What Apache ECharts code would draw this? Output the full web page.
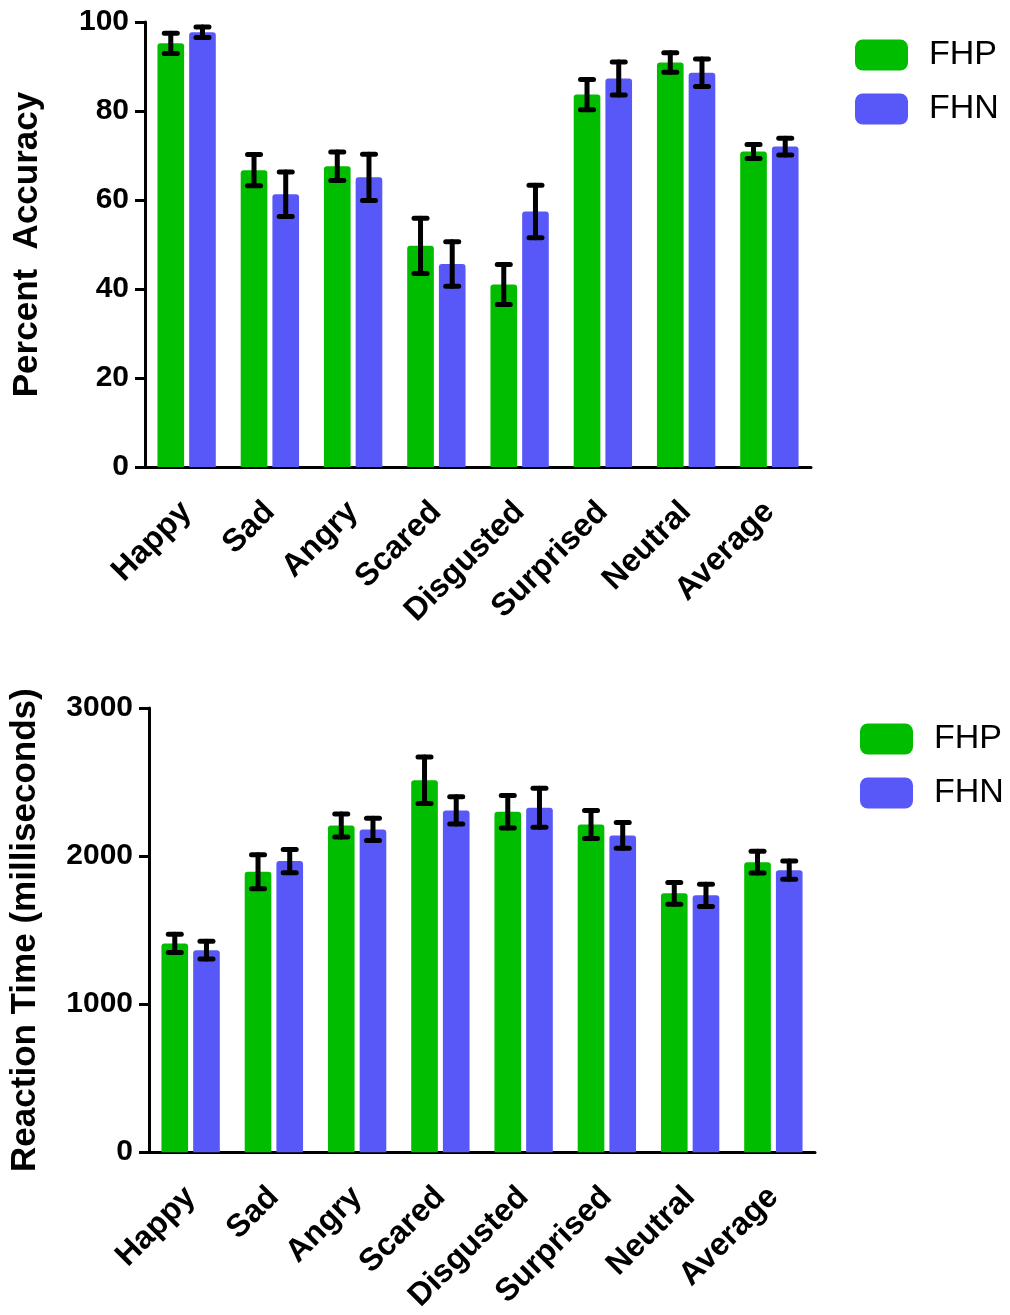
<!DOCTYPE html>
<html>
<head>
<meta charset="utf-8">
<script src="https://cdn.jsdelivr.net/npm/echarts@6/dist/echarts.min.js"></script>
<style>
html,body{margin:0;padding:0;background:#fff;}
#chart{width:1010px;height:1315px;}
</style>
</head>
<body>
<div id="chart"></div>
<script>
var categories = ['Happy','Sad','Angry','Scared','Disgusted','Surprised','Neutral','Average'];
var seriesNames = ['FHP','FHN'];
var accTicks = [0,20,40,60,80,100];
var rtTicks = [0,1000,2000,3000];

// Percent accuracy (top chart)
var accFHP    = [95.2, 66.7, 67.6, 49.7, 41.0, 83.7, 90.9, 70.9];
var accFHPErr = [2.3, 3.5, 3.2, 6.2, 4.5, 3.4, 2.2, 1.6];
var accFHN    = [97.7, 61.3, 65.1, 45.6, 57.4, 87.3, 88.6, 72.0];
var accFHNErr = [1.2, 5.0, 5.2, 5.0, 5.9, 3.7, 3.1, 1.9];

// Reaction time (bottom chart)
var rtFHP    = [1410, 1894, 2206, 2512, 2299, 2213, 1748, 1959];
var rtFHPErr = [62, 115, 78, 157, 110, 95, 73, 73];
var rtFHN    = [1364, 1966, 2180, 2308, 2326, 2139, 1735, 1905];
var rtFHNErr = [60, 78, 75, 92, 132, 87, 75, 62];

var GREEN = '#00bd00';
var BLUE = '#5858f8';
var FONT = '"Liberation Sans", Arial, sans-serif';
var BAR_W = 0.32, BAR_GAP = 0.19;

function errData(vals, errs){
  return vals.map(function(v,i){ return [i, v, errs[i]]; });
}
function errRender(sign){
  return function(params, api){
    var ci = api.value(0), v = api.value(1), e = api.value(2);
    var band = api.size([1,0])[0];
    var bw = band * BAR_W;
    var off = sign * (bw + bw * BAR_GAP) / 2;
    var top = api.coord([ci, v + e]);
    var bot = api.coord([ci, v - e]);
    var x = top[0] + off;
    var hw = 6.5;
    var st = {stroke:'#000', lineWidth:5, lineCap:'round'};
    return {type:'group', children:[
      {type:'line', shape:{x1:x, y1:top[1], x2:x, y2:bot[1]}, style:st},
      {type:'line', shape:{x1:x-hw, y1:top[1], x2:x+hw, y2:top[1]}, style:st},
      {type:'line', shape:{x1:x-hw, y1:bot[1], x2:x+hw, y2:bot[1]}, style:st}
    ]};
  };
}

function xAxisDef(gi){
  return {
    type:'category', gridIndex:gi, data:categories,
    axisLine:{lineStyle:{color:'#000', width:3}},
    axisTick:{alignWithLabel:true, length:11, lineStyle:{color:'#000', width:3}},
    axisLabel:{rotate:45, margin:40, color:'#000', fontSize:32, fontWeight:'bold', fontFamily:FONT, interval:0}
  };
}
function yAxisDef(gi, ticks, name, gap){
  return {
    type:'value', gridIndex:gi, min:ticks[0], max:ticks[ticks.length-1], interval:ticks[1]-ticks[0],
    name:name, nameLocation:'middle', nameGap:gap,
    nameTextStyle:{color:'#000', fontSize:35, fontWeight:'bold', fontFamily:FONT},
    axisLine:{show:true, lineStyle:{color:'#000', width:3}},
    axisTick:{show:true, length:10, lineStyle:{color:'#000', width:3}},
    splitLine:{show:false},
    axisLabel:{margin:16, color:'#000', fontSize:30, fontWeight:'bold', fontFamily:FONT,
      formatter:function(v){ return String(v); }}
  };
}
function legendDef(left, top){
  return {
    data:seriesNames, orient:'vertical', left:left, top:top,
    icon:'roundRect', itemWidth:53, itemHeight:31, itemGap:20,
    textStyle:{color:'#000', fontSize:34, fontFamily:FONT, padding:[0,0,0,16]}
  };
}
function barSeries(name, gi, data, color){
  return {
    type:'bar', name:name, xAxisIndex:gi, yAxisIndex:gi, data:data,
    barWidth:(BAR_W*100)+'%', barGap:(BAR_GAP*100)+'%',
    itemStyle:{color:color, borderRadius:[3,3,0,0]},
    emphasis:{disabled:true}
  };
}
function errSeries(name, gi, vals, errs, sign){
  return {
    type:'custom', name:name, xAxisIndex:gi, yAxisIndex:gi,
    data:errData(vals, errs), renderItem:errRender(sign), z:10,
    itemStyle:{color: name==='FHP'?GREEN:BLUE}
  };
}

var chart = echarts.init(document.getElementById('chart'), null, {renderer:'canvas'});
chart.setOption({
  backgroundColor:'#fff',
  animation:false,
  color:[GREEN, BLUE],
  legend:[legendDef(850, 33), legendDef(855, 717)],
  grid:[
    {left:145, right:199, top:22, height:445, containLabel:false},
    {left:148, right:195, top:708, height:445, containLabel:false}
  ],
  xAxis:[xAxisDef(0), xAxisDef(1)],
  yAxis:[
    yAxisDef(0, accTicks, 'Percent  Accuracy', 100),
    yAxisDef(1, rtTicks, 'Reaction Time (milliseconds)', 106)
  ],
  series:[
    barSeries('FHP', 0, accFHP, GREEN),
    barSeries('FHN', 0, accFHN, BLUE),
    errSeries('FHP', 0, accFHP, accFHPErr, -1),
    errSeries('FHN', 0, accFHN, accFHNErr, 1),
    barSeries('FHP', 1, rtFHP, GREEN),
    barSeries('FHN', 1, rtFHN, BLUE),
    errSeries('FHP', 1, rtFHP, rtFHPErr, -1),
    errSeries('FHN', 1, rtFHN, rtFHNErr, 1)
  ]
});
</script>
</body>
</html>
